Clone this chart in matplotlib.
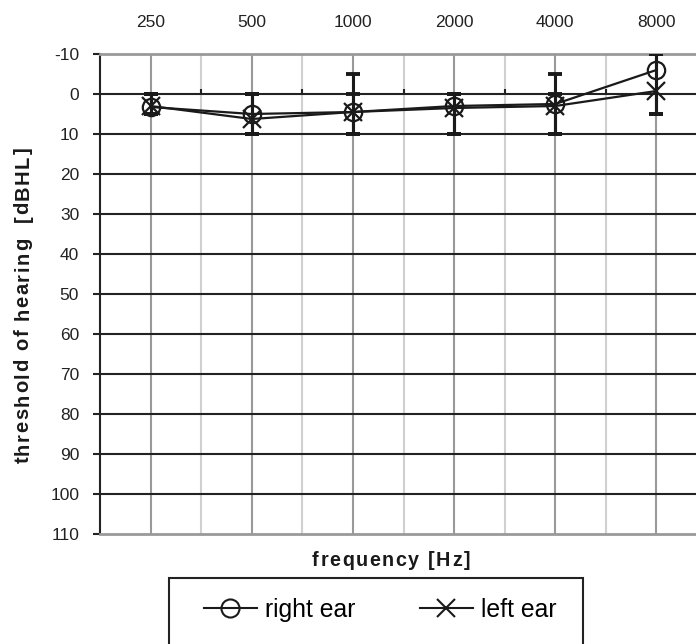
import numpy as np
import matplotlib.pyplot as plt
from matplotlib.patches import Rectangle
from matplotlib.lines import Line2D
from matplotlib.font_manager import FontProperties

plt.rcParams['font.family'] = ['Liberation Sans', 'DejaVu Sans']
plt.rcParams['axes.unicode_minus'] = False

freqs = ["250", "500", "1000", "2000", "4000", "8000"]
yticks = [-10, 0, 10, 20, 30, 40, 50, 60, 70, 80, 90, 100, 110]

right_ear = [3.25, 5, 4.5, 3, 2.5, -6]
left_ear = [3, 6.25, 4.5, 3.5, 3, -0.75]

# range of thresholds (min / max dBHL) per frequency
right_min = [0, 0, -5, 0, -5, -10]
right_max = [5, 10, 10, 10, 10, 5]
left_min = [0, 0, 0, 0, 0, -10]
left_max = [5, 10, 10, 10, 10, 5]

W, H = 696, 644


def spacedText(fig, s, cx, cy, size, spacing, vertical=False):
    # draw text letter by letter with extra tracking, centred on (cx, cy) in pixels
    renderer = fig.canvas.get_renderer()
    prop = FontProperties(family="Liberation Sans", weight="bold", size=size)

    def width(t):
        return renderer.get_text_width_height_descent(t, prop, ismath=False)[0]

    bar = width("|")
    offs = [width(s[:i] + "|") - bar + i * spacing for i in range(len(s) + 1)]
    total = offs[-1] - spacing
    for i, ch in enumerate(s):
        if ch == " ":
            continue
        if vertical:
            fig.text(cx / W, 1 - (cy + total / 2 - offs[i]) / H, ch, rotation=90,
                     ha="left", va="center", rotation_mode="anchor",
                     fontproperties=prop, color="#1a1a1a")
        else:
            fig.text((cx - total / 2 + offs[i]) / W, 1 - cy / H, ch, ha="left",
                     va="baseline", fontproperties=prop, color="#1a1a1a")


def produceGraph():
    fig = plt.figure(figsize=(W / 100, H / 100), dpi=100)
    ax = fig.add_axes([100 / W, 1 - 534 / H, 1 - 100 / W + 0.01, 480 / H])
    x = np.arange(len(freqs))

    # grid
    for xi in x:
        ax.axvline(xi, color="#999999", lw=1.5, zorder=1)
        ax.axvline(xi + 0.5, color="#d0d0d0", lw=1.5, zorder=1)
    for yv in yticks[1:-1]:
        ax.axhline(yv, color="#222222", lw=1.5, zorder=1)
    # category axis tick marks on the 0 line
    ax.vlines(x[:-1] + 0.5, 0, -1.3, color="#222222", lw=1.5, zorder=2)

    for vals, lo, hi, mk, ms in [(right_ear, right_min, right_max, "o", 12.5),
                                  (left_ear, left_min, left_max, "x", 12.5)]:
        vals = np.array(vals)
        err = [vals - np.array(lo), np.array(hi) - vals]
        ax.errorbar(x, vals, yerr=err, fmt="none", ecolor="#1a1a1a", elinewidth=2.2,
                    capsize=5, capthick=2.8, zorder=3)
        ax.plot(x, vals, color="#1a1a1a", lw=1.6, marker=mk, ms=ms, mfc="none",
                mec="#1a1a1a", mew=1.6, zorder=4)

    ax.set_xlim(-0.5, 5.46)
    ax.set_ylim(110, -10)
    ax.set_yticks(yticks)
    ax.set_xticks(x)
    ax.set_xticklabels(freqs)
    ax.xaxis.tick_top()
    ax.tick_params(axis="x", length=0, labelsize=12.5, pad=17, colors="#222222")
    ax.tick_params(axis="y", direction="out", length=5, width=1.5, labelsize=12.5,
                   colors="#222222", pad=10)
    for s in ["top", "bottom", "right"]:
        ax.spines[s].set_color("#999999")
        ax.spines[s].set_linewidth(2)
    ax.spines["left"].set_color("#222222")
    ax.spines["left"].set_linewidth(1.5)

    spacedText(fig, "threshold of hearing  [dBHL]", 23, 305, 14.5, 1.6, vertical=True)
    spacedText(fig, "frequency [Hz]", 391, 566, 14.2, 1.6)

    fig.patches.append(Rectangle((169 / W, -0.02), (583 - 169) / W, (H - 578) / H + 0.02,
                                 transform=fig.transFigure, fill=False, ec="#222222", lw=1.5))
    handles = [Line2D([], [], color="#1a1a1a", lw=1.5, marker="o", ms=13, mfc="none", mew=1.5),
               Line2D([], [], color="#1a1a1a", lw=1.5, marker="x", ms=13, mew=1.5)]
    fig.legend(handles, ["right ear", "left ear"], loc="center", ncol=2,
               bbox_to_anchor=(380 / W, 1 - 610 / H), frameon=False, fontsize=17.8,
               handlelength=2.15, handletextpad=0.32, columnspacing=2.6)

    fig.savefig("out.png", dpi=100)


def main():
    produceGraph()


if __name__ == "__main__":
    main()
